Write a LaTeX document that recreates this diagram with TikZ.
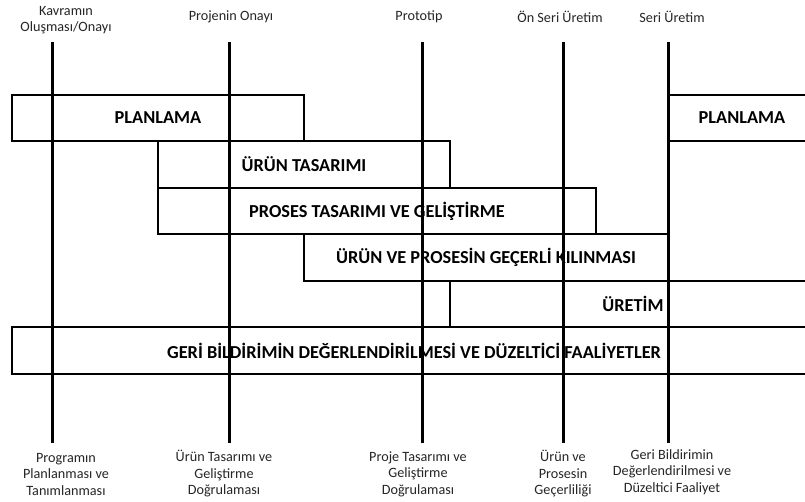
\documentclass[tikz,border=0pt]{standalone}
\usepackage{fontspec}
\setmainfont{Carlito}
\usepackage{tikz}
\usetikzlibrary{calc}

\begin{document}
\begin{tikzpicture}[x=1pt,y=-1pt]
      \tikzset{phase/.style = {shape=rectangle,draw,line width=1.6pt,inner sep=0pt,
          font=\bfseries\fontsize{18.3}{21}\selectfont}}
      \tikzset{stage/.style = {align=center,text=black!85,
          font=\fontsize{14.2}{16.5}\selectfont}}
      \tikzset{milestone/.style = {-,line width=3pt}}
      \clip (0,0) rectangle (805,501);
      \fill[white] (0,0) rectangle (805,501);

      \node[phase,minimum width=292pt,minimum height=46pt] (plan1) at (158,118) {PLANLAMA};
      \node[phase,minimum width=148pt,minimum height=46pt] (plan2) at (742,118) {PLANLAMA};
      \node[phase,minimum width=292pt,minimum height=47pt] (urun) at (304,164.5) {ÜRÜN TASARIMI};
      \node[phase,minimum width=438pt,minimum height=46pt] (proses) at (377,211) {PROSES TASARIMI VE GELİŞTİRME};
      \node[phase,minimum width=364pt,minimum height=47pt] (gecer) at (486,257.5) {ÜRÜN VE PROSESİN GEÇERLİ KILINMASI};
      \node[phase,minimum width=366pt,minimum height=46pt] (uretim) at (633,304) {ÜRETİM};
      \node[phase,minimum width=804pt,minimum height=47pt] (geri) at (414,350.5) {GERİ BİLDİRİMİN DEĞERLENDİRİLMESİ VE DÜZELTİCİ FAALİYETLER};

      \node[stage] (kavram) at (66,20) {Kavramın\\Oluşması/Onayı};
      \node[stage] (onay) at (231,17) {Projenin Onayı};
      \node[stage] (proto) at (419,17) {Prototip};
      \node[stage] (onseri) at (560,17) {Ön Seri Üretim};
      \node[stage] (seri) at (672,17) {Seri Üretim};

      \node[stage] (program) at (66,474) {Programın\\Planlanması ve\\Tanımlanması};
      \node[stage] (urundog) at (224,474) {Ürün Tasarımı ve\\Geliştirme\\Doğrulaması};
      \node[stage] (projedog) at (418,474) {Proje Tasarımı ve\\Geliştirme\\Doğrulaması};
      \node[stage] (gecerli) at (563,474) {Ürün ve\\Prosesin\\Geçerliliği};
      \node[stage] (faaliyet) at (672,472) {Geri Bildirimin\\Değerlendirilmesi ve\\Düzeltici Faaliyet};

      \coordinate (t1) at (52,42);
      \coordinate (b1) at (52,443);
      \coordinate (t2) at (229,42);
      \coordinate (b2) at (229,443);
      \coordinate (t3) at (422,42);
      \coordinate (b3) at (422,443);
      \coordinate (t4) at (563,42);
      \coordinate (b4) at (563,443);
      \coordinate (t5) at (668,42);
      \coordinate (b5) at (668,443);

      \draw[milestone] (t1) to (b1);
      \draw[milestone] (t2) to (b2);
      \draw[milestone] (t3) to (b3);
      \draw[milestone] (t4) to (b4);
      \draw[milestone] (t5) to (b5);
    \end{tikzpicture}
\end{document}
